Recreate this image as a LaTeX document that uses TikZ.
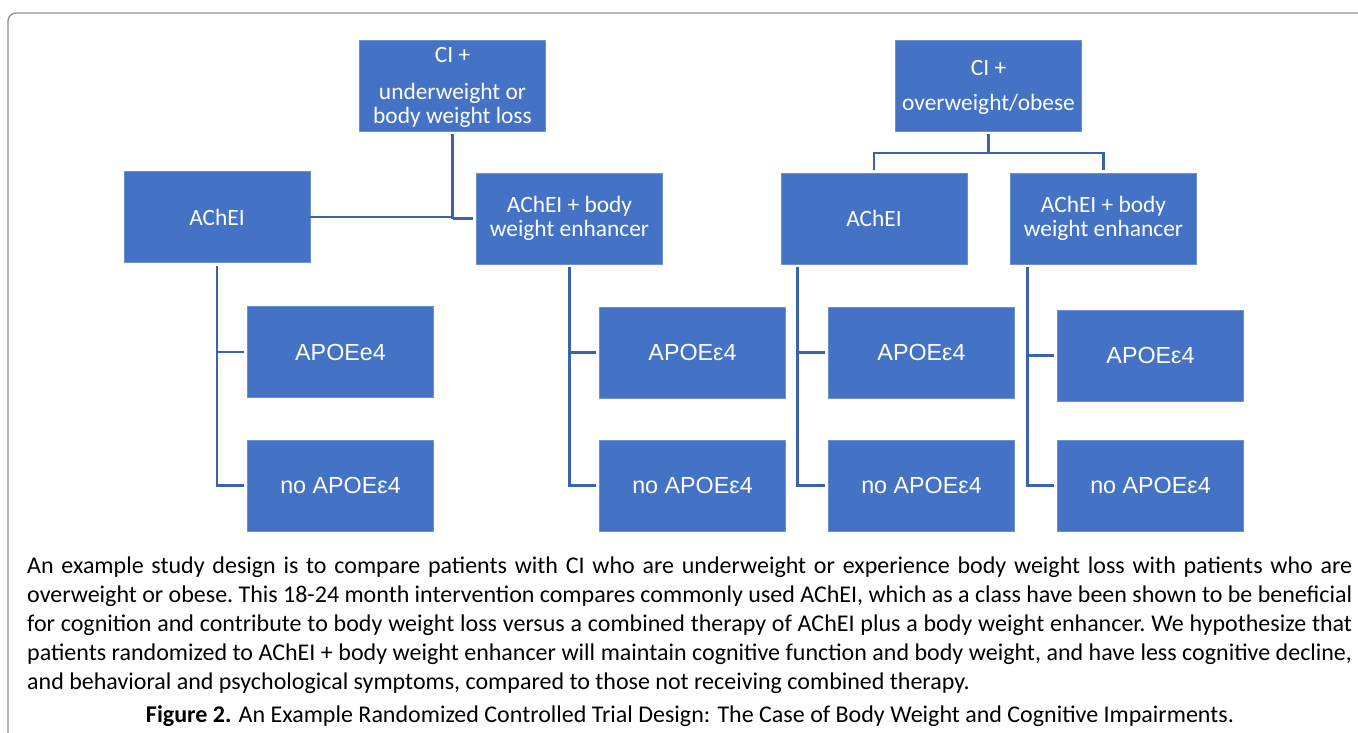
\documentclass[tikz,border=0pt]{standalone}
\usepackage{fontspec}
\setmainfont{Carlito}
\newfontfamily\arialf{Liberation Sans}
\definecolor{boxblue}{HTML}{4472C4}
\definecolor{boxedge}{HTML}{6A8FD3}
\definecolor{linkblue}{HTML}{3A62AE}
\definecolor{framegray}{HTML}{8C8C8C}
\begin{document}
\begin{tikzpicture}[x=1pt,y=-1pt,
  box/.style={fill=boxblue,draw=boxedge,line width=0.6pt,text=white,
    minimum width=186pt,minimum height=91pt,inner sep=0pt,align=center,
    font=\fontsize{23.4}{24.5}\selectfont},
  abox/.style={box,font=\arialf\fontsize{23.3}{26}\selectfont},
  link/.style={draw=linkblue,line width=2.6pt}]
\useasboundingbox (0,0) rectangle (1358,733);
\fill[white] (0,0) rectangle (1358,733);
\draw[framegray,line width=1.3pt,rounded corners=8pt] (1360,13) -- (8,13) -- (8,735);

% top level
\node[box,text depth=-3pt] (ciu) at (452.5,85.5) {CI +\\[12pt]underweight or\\body weight loss};
\node[box,text depth=-3pt] (cio) at (988.5,85.5) {CI +\\[10pt]overweight/obese};

% second level
\node[box] (achL) at (217,217) {AChEI};
\node[box] (achbL) at (569.5,218.5) {AChEI + body\\weight enhancer};
\node[box] (achR) at (874,218.5) {AChEI};
\node[box] (achbR) at (1103.5,218.5) {AChEI + body\\weight enhancer};

% third level
\node[abox] (apo1) at (340.5,352) {APOEe4};
\node[abox] (no1) at (340.5,485.5) {no APOEε4};
\node[abox] (apo2) at (692.5,352.5) {APOEε4};
\node[abox] (no2) at (692.5,485.5) {no APOEε4};
\node[abox] (apo3) at (921.5,352.5) {APOEε4};
\node[abox] (no3) at (921.5,485.5) {no APOEε4};
\node[abox] (apo4) at (1150.5,355.5) {APOEε4};
\node[abox] (no4) at (1150.5,485.5) {no APOEε4};

% connectors, left tree
\coordinate (jL) at (ciu.south |- achbL.west);
\draw[link,shorten <=3pt] (ciu.south) -- (jL);
\draw[link] (achL.east) -- (ciu.south |- achL.east);
\draw[link,shorten >=3pt] (jL) -- (achbL.west);

% connectors, right tree
\coordinate (bus) at (988.5,153);
\draw[link,shorten <=3pt] (cio.south) -- (bus);
\draw[link,shorten <=3pt,shorten >=3pt] (achR.north) |- (bus) -| (achbR.north);

% branch lines to APOE groups
\coordinate (tL) at (achL.south);
\coordinate (tM) at (achbL.south);
\coordinate (tR) at ([xshift=17pt]achR.south west);
\coordinate (tRR) at ([xshift=17pt]achbR.south west);
\draw[link,shorten <=3pt,shorten >=3pt] (tL) |- (apo1.west);
\draw[link,shorten <=3pt,shorten >=3pt] (tL) |- (no1.west);
\draw[link,shorten <=3pt,shorten >=3pt] (tM) |- (apo2.west);
\draw[link,shorten <=3pt,shorten >=3pt] (tM) |- (no2.west);
\draw[link,shorten <=3pt,shorten >=3pt] (tR) |- (apo3.west);
\draw[link,shorten <=3pt,shorten >=3pt] (tR) |- (no3.west);
\draw[link,shorten <=3pt,shorten >=3pt] (tRR) |- (apo4.west);
\draw[link,shorten <=3pt,shorten >=3pt] (tRR) |- (no4.west);

% caption text
\node[anchor=north west,inner sep=0pt,text width=1325pt,align=justify,
  font=\fontsize{24}{29}\selectfont\frenchspacing] (para) at (27,557)
  {An example study design is to compare patients with CI who are underweight or experience body weight loss with patients who are\linebreak
  overweight or obese. This 18-24 month intervention compares commonly used AChEI, which as a class have been shown to be beneficial\linebreak
  for cognition and contribute to body weight loss versus a combined therapy of AChEI plus a body weight enhancer. We hypothesize that\linebreak
  patients randomized to AChEI + body weight enhancer will maintain cognitive function and body weight, and have less cognitive decline,\linebreak
  and behavioral and psychological symptoms, compared to those not receiving combined therapy.};
\node[inner sep=0pt,font=\fontsize{24}{26}\selectfont] (cap) at (690,716)
  {\textbf{Figure 2.} An Example Randomized Controlled Trial Design: The Case of Body Weight and Cognitive Impairments.};
\end{tikzpicture}
\end{document}
